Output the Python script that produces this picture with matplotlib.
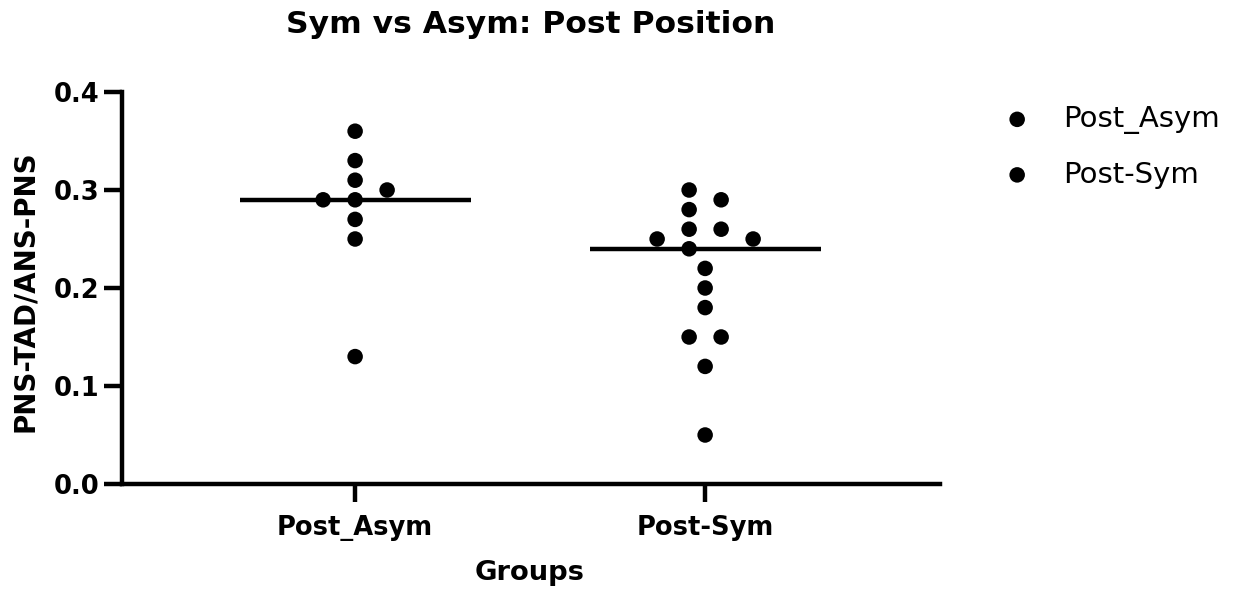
import matplotlib
matplotlib.use("Agg")
import matplotlib.pyplot as plt
import numpy as np

# Datos
grupos = ["Post_Asym", "Post-Sym"]
post_asym = [0.36, 0.33, 0.31, 0.30, 0.29, 0.29, 0.27, 0.25, 0.13]
post_sym = [0.30, 0.29, 0.28, 0.26, 0.26, 0.25, 0.25, 0.24, 0.22, 0.20,
            0.18, 0.15, 0.15, 0.12, 0.05]
y_ticks = [0.0, 0.1, 0.2, 0.3, 0.4]

plt.rcParams["font.family"] = ["DejaVu Sans"]
plt.rcParams["font.weight"] = "bold"

W, H = 1234, 592
fig = plt.figure(figsize=(W / 100, H / 100), dpi=100)
ax = fig.add_axes([122 / W, 1 - 484 / H, (940 - 122) / W, (484 - 92) / H])
ax.set_xlim(-0.666, 1.671)
ax.set_ylim(0, 0.4)


def posiciones_enjambre(valores, centro, paso_px=16, choque_px=15):
    # coloca los puntos sin que se pisen (pasos de medio punto)
    valores = np.array(valores)
    y_px = ax.transData.transform(np.column_stack([np.full(len(valores), centro), valores]))[:, 1]
    x_unidad = ax.transData.transform((1, 0))[0] - ax.transData.transform((0, 0))[0]
    orden = np.argsort(-valores, kind="stable")
    k = np.zeros(len(valores), dtype=int)
    candidatos = [0]
    for n in range(1, 20):
        candidatos += [n, -n]
    colocados = []
    for i in orden:
        for c in candidatos:
            if all(abs(c - k[j]) >= 2 for j in colocados if abs(y_px[i] - y_px[j]) < choque_px):
                k[i] = c
                break
        colocados.append(i)
    # centrar cada grupo de puntos vecinos
    bloques = []
    bloque = [orden[0]]
    for a, b in zip(orden[:-1], orden[1:]):
        if abs(y_px[a] - y_px[b]) < choque_px:
            bloque.append(b)
        else:
            bloques.append(bloque)
            bloque = [b]
    bloques.append(bloque)
    for b in bloques:
        k[b] -= int(np.floor(np.mean(k[b]) + 0.5))
    return centro + k * paso_px / x_unidad


for idx, (nombre, valores) in enumerate(zip(grupos, [post_asym, post_sym])):
    xs = posiciones_enjambre(valores, idx)
    ax.scatter(xs, valores, s=125, color="black", edgecolors="none", label=nombre, zorder=3)
    mediana = np.median(valores)
    ax.plot([idx - 0.33, idx + 0.33], [mediana, mediana], color="black", lw=3.2, zorder=2,
            solid_capstyle="butt")

# Ejes
for lado in ["top", "right"]:
    ax.spines[lado].set_visible(False)
for lado in ["left", "bottom"]:
    ax.spines[lado].set_linewidth(3.2)
ax.set_xticks([0, 1], grupos)
ax.set_yticks(y_ticks, [f"{t:.1f}" for t in y_ticks])
ax.tick_params(axis="both", direction="out", length=13, width=3.2, labelsize=18.5)
ax.tick_params(axis="x", pad=9)
ax.tick_params(axis="y", pad=3)

# Textos
fig.text(531 / W, 1 - 33 / H, "Sym vs Asym: Post Position", ha="center", va="baseline",
         fontsize=22.6, fontweight="bold")
fig.text(530 / W, 1 - 580 / H, "Groups", ha="center", va="baseline", fontsize=19.7,
         fontweight="bold")
fig.text(25 / W, 1 - 291 / H, "PNS-TAD/ANS-PNS", ha="center", va="center", rotation=90,
         fontsize=20, fontweight="bold")

fig.legend(loc="upper left", bbox_to_anchor=(988 / W, 1 - 105 / H), frameon=False,
           prop={"size": 21, "weight": "normal"}, scatterpoints=1, handlelength=2,
           handletextpad=0.575, labelspacing=0.91, borderpad=0, borderaxespad=0)

plt.savefig("out.png", dpi=100)
